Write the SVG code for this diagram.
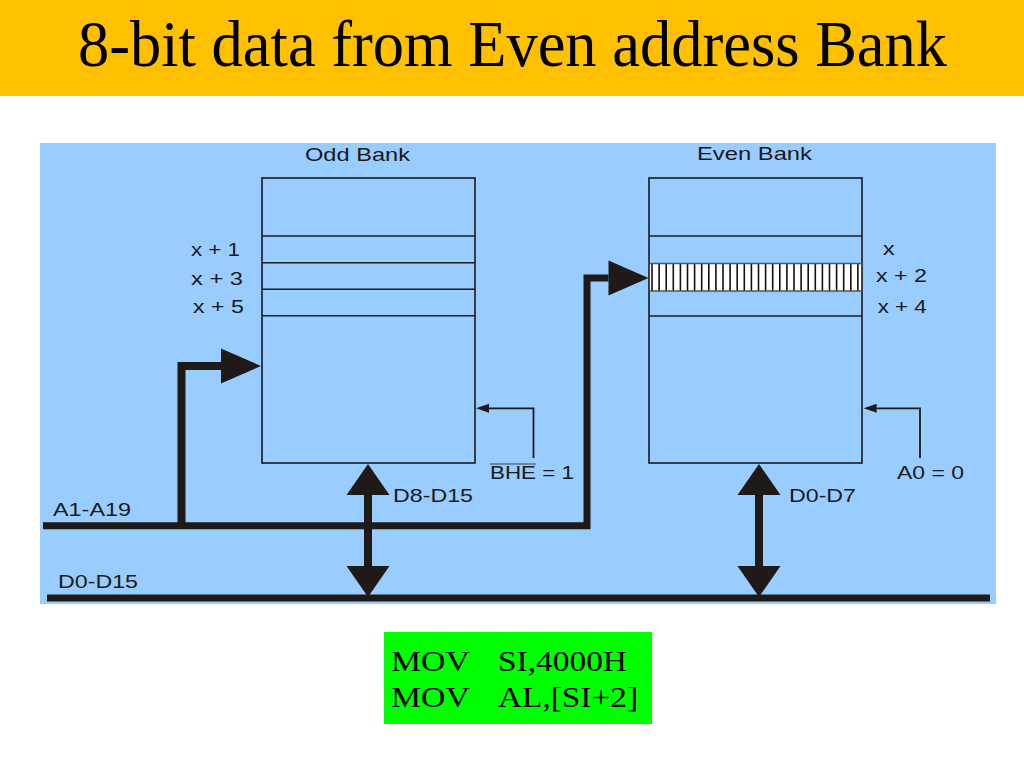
<svg xmlns="http://www.w3.org/2000/svg" width="1024" height="768" viewBox="0 0 1024 768">
  <style>
    .lbl { font-family: "Liberation Sans", Arial, sans-serif; font-size: 19px; fill: #1a1a1a; }
    .ttl { font-family: "Liberation Serif", "Times New Roman", serif; font-size: 66px; fill: #000; }
    .code { font-family: "Liberation Serif", "Times New Roman", serif; font-size: 30px; fill: #000; }
    .box { fill: none; stroke: #1a1a1a; stroke-width: 1.6; }
    .row { stroke: #1a1a1a; stroke-width: 1.6; }
    .bus { fill: none; stroke: #1f1a17; stroke-width: 7; stroke-linejoin: miter; }
    .thick { fill: none; stroke: #1f1a17; stroke-width: 8; stroke-linejoin: miter; }
    .thin { fill: none; stroke: #1f1a17; stroke-width: 1.8; }
    .hatch { stroke: #111; stroke-width: 1.6; }
  </style>
  <defs>
    <marker id="bigArrow" markerUnits="userSpaceOnUse" markerWidth="41" markerHeight="36" refX="0" refY="17.5" orient="auto" overflow="visible">
      <path d="M0,0 L40,17.5 L0,35 Z" fill="#1f1a17"/>
    </marker>
    <marker id="dblArrow" markerUnits="userSpaceOnUse" markerWidth="32" markerHeight="44" refX="0" refY="21.5" orient="auto-start-reverse" overflow="visible">
      <path d="M0,0 L31,21.5 L0,43 Z" fill="#1f1a17"/>
    </marker>
    <marker id="thinArrow" markerUnits="userSpaceOnUse" markerWidth="14" markerHeight="10" refX="0" refY="4.5" orient="auto" overflow="visible">
      <path d="M0,0 L13,4.5 L0,9 Z" fill="#1f1a17"/>
    </marker>
  </defs>

  <rect x="0" y="0" width="1024" height="768" fill="#ffffff"/>

  <g id="title">
    <rect x="0" y="0" width="1024" height="96" fill="#FFC000"/>
    <text class="ttl" x="78" y="66" textLength="869" lengthAdjust="spacingAndGlyphs">8-bit data from Even address Bank</text>
  </g>

  <g id="panel">
    <rect x="40" y="143" width="956" height="461" fill="#99CCFF"/>
  </g>

  <g id="odd-bank">
    <text class="lbl" x="305" y="161" textLength="105" lengthAdjust="spacingAndGlyphs">Odd Bank</text>
    <rect class="box" x="262" y="178" width="213" height="285"/>
    <line class="row" x1="262" y1="236" x2="475" y2="236"/>
    <line class="row" x1="262" y1="262.7" x2="475" y2="262.7"/>
    <line class="row" x1="262" y1="289.3" x2="475" y2="289.3"/>
    <line class="row" x1="262" y1="315.7" x2="475" y2="315.7"/>
    <text class="lbl" x="191" y="256" textLength="49" lengthAdjust="spacingAndGlyphs">x + 1</text>
    <text class="lbl" x="191" y="285" textLength="52" lengthAdjust="spacingAndGlyphs">x + 3</text>
    <text class="lbl" x="193" y="313" textLength="51" lengthAdjust="spacingAndGlyphs">x + 5</text>
  </g>

  <g id="even-bank">
    <text class="lbl" x="697" y="160" textLength="115" lengthAdjust="spacingAndGlyphs">Even Bank</text>
    <rect x="649" y="263.5" width="213" height="27.5" fill="#ffffff"/>
    <path class="hatch" d="M652,264V291M659.1,264V291M666.2,264V291M673.3,264V291M680.4,264V291M687.5,264V291M694.6,264V291M701.7,264V291M708.8,264V291M715.9,264V291M723,264V291M730.1,264V291M737.2,264V291M744.3,264V291M751.4,264V291M758.5,264V291M765.6,264V291M772.7,264V291M779.8,264V291M786.9,264V291M794,264V291M801.1,264V291M808.2,264V291M815.3,264V291M822.4,264V291M829.5,264V291M836.6,264V291M843.7,264V291M850.8,264V291M857.9,264V291"/>
    <rect class="box" x="649" y="178" width="213" height="285"/>
    <line class="row" x1="649" y1="236" x2="862" y2="236"/>
    <line x1="649" y1="263.5" x2="862" y2="263.5" stroke="#555" stroke-width="1.4"/>
    <line x1="649" y1="291" x2="862" y2="291" stroke="#555" stroke-width="1.4"/>
    <line class="row" x1="649" y1="316" x2="862" y2="316"/>
    <text class="lbl" x="882.7" y="255" textLength="12" lengthAdjust="spacingAndGlyphs">x</text>
    <text class="lbl" x="876" y="282" textLength="51" lengthAdjust="spacingAndGlyphs">x + 2</text>
    <text class="lbl" x="877.7" y="313" textLength="49" lengthAdjust="spacingAndGlyphs">x + 4</text>
  </g>

  <g id="connectors">
    <path class="bus" d="M43,525.7 H587 V278 H608.5" marker-end="url(#bigArrow)"/>
    <path class="thick" d="M181.5,525.7 V366 H221" marker-end="url(#bigArrow)"/>
    <line class="bus" x1="47" y1="598" x2="990" y2="598"/>
    <path class="thick" d="M368,495 V566" marker-start="url(#dblArrow)" marker-end="url(#dblArrow)"/>
    <path class="thick" d="M759,495 V566" marker-start="url(#dblArrow)" marker-end="url(#dblArrow)"/>
    <path class="thin" d="M533.5,458 V408.3 H489" marker-end="url(#thinArrow)"/>
    <path class="thin" d="M920,458 V408.3 H876.7" marker-end="url(#thinArrow)"/>
  </g>

  <g id="labels">
    <text class="lbl" x="53" y="516" textLength="78" lengthAdjust="spacingAndGlyphs">A1-A19</text>
    <text class="lbl" x="58" y="588" textLength="80" lengthAdjust="spacingAndGlyphs">D0-D15</text>
    <text class="lbl" x="393" y="502" textLength="80" lengthAdjust="spacingAndGlyphs">D8-D15</text>
    <text class="lbl" x="789" y="502" textLength="67" lengthAdjust="spacingAndGlyphs">D0-D7</text>
    <line x1="490" y1="464" x2="536" y2="464" stroke="#5b6e8c" stroke-width="1.5"/>
    <text class="lbl" x="490" y="479" textLength="84" lengthAdjust="spacingAndGlyphs">BHE = 1</text>
    <text class="lbl" x="897" y="479" textLength="67" lengthAdjust="spacingAndGlyphs">A0 = 0</text>
  </g>

  <g id="code-box">
    <rect x="384" y="632" width="268" height="92" fill="#00FF00"/>
    <text class="code" x="391" y="671" textLength="79" lengthAdjust="spacingAndGlyphs">MOV</text>
    <text class="code" x="498" y="671" textLength="129" lengthAdjust="spacingAndGlyphs">SI,4000H</text>
    <text class="code" x="391" y="707" textLength="79" lengthAdjust="spacingAndGlyphs">MOV</text>
    <text class="code" x="498" y="707" textLength="140" lengthAdjust="spacingAndGlyphs">AL,[SI+2]</text>
  </g>
</svg>
